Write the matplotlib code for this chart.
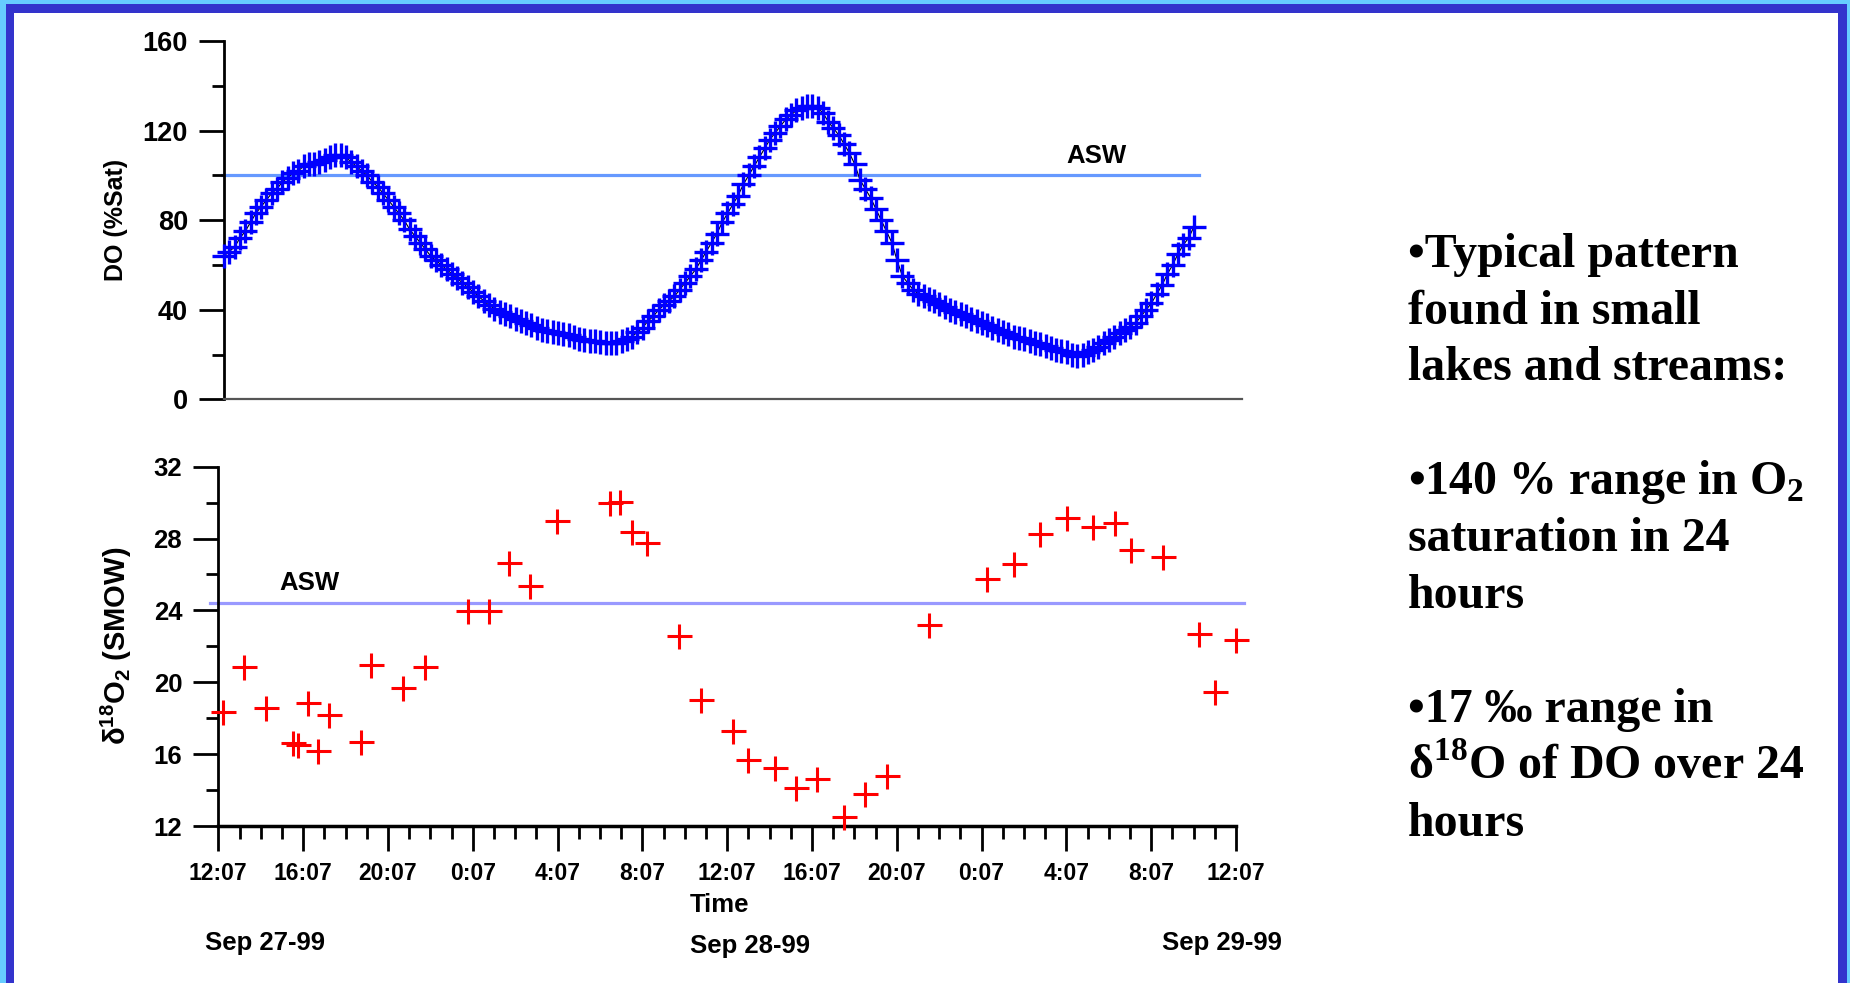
import numpy as np
import matplotlib.pyplot as plt
from matplotlib.patches import Rectangle

plt.rcParams['font.family'] = ['Liberation Sans', 'DejaVu Sans']
plt.rcParams['font.weight'] = 'bold'
plt.rcParams['mathtext.fontset'] = 'custom'
plt.rcParams['mathtext.rm'] = 'Liberation Serif:bold'
plt.rcParams['mathtext.bf'] = 'Liberation Serif:bold'
plt.rcParams['mathtext.sf'] = 'Liberation Sans:bold'

# dissolved O2 (% saturation), one reading every 15 min from 12:07 Sep 27
do_sat = [64, 66, 68, 72, 75, 79, 83, 86, 89, 92, 94, 97, 99, 101, 102, 104,
          105, 105, 106, 107, 108, 109, 109, 108, 106, 104, 102, 100, 97, 95, 92, 89,
          86, 83, 80, 76, 73, 70, 67, 64, 62, 60, 58, 56, 54, 52, 50, 48,
          46, 44, 42, 40.5, 39, 38, 37, 36, 35, 34, 33, 32, 31, 30.5, 30, 29.5,
          29, 28.5, 28, 27, 26.5, 26, 26, 25.5, 25, 25, 25, 26, 27, 28, 30, 32,
          35, 37, 40, 42, 44, 46, 49, 52, 55, 58, 62, 66, 70, 74, 79, 83,
          87, 91, 96, 100, 104, 108, 112, 116, 119, 122, 125, 127, 129, 130, 131, 131,
          130, 128, 124, 121, 118, 114, 110, 105, 98, 94, 90, 85, 80, 75, 70, 62,
          55, 52, 49, 47, 46, 45, 44, 42.5, 41, 40, 39, 38, 37, 36, 35, 34,
          33, 32, 31, 30, 29, 28, 27.5, 27, 26, 25, 24.5, 24, 23, 22, 21.5, 21,
          20, 19.5, 20, 21, 22, 23.5, 25, 26.5, 28, 29.5, 31, 32.5, 34, 37, 40, 43,
          47, 51, 56, 60, 65, 69, 72, 77]
do_hours = np.arange(len(do_sat)) * 0.25

# d18O of dissolved O2 (per mil SMOW), hours since 12:07 Sep 27
d18o_hours = [0.21, 1.22, 2.23, 3.52, 3.76, 4.22, 4.71, 5.21, 6.71, 7.22, 8.72, 9.73,
              11.76, 12.75, 13.72, 14.71, 15.98, 18.49, 18.95, 19.50, 20.22, 21.74,
              22.75, 24.27, 24.99, 26.26, 27.27, 28.26, 29.51, 30.52, 31.53, 33.52,
              36.26, 37.53, 38.77, 40.04, 41.26, 42.28, 43.04, 44.54, 46.27, 47.03, 48.02]
d18o = [18.36, 20.87, 18.55, 16.64, 16.51, 18.86, 16.17, 18.18, 16.67, 20.96, 19.66, 20.87,
        23.97, 23.97, 26.66, 25.36, 28.96, 29.96, 30.05, 28.34, 27.77, 22.57,
        19.0, 17.29, 15.67, 15.21, 14.10, 14.60, 12.48, 13.78, 14.78, 23.17,
        25.74, 26.56, 28.25, 29.16, 28.66, 28.84, 27.34, 26.95, 22.67, 19.47, 22.37]

asw_do = 100
asw_d18o = 24.43

tick_hours = list(range(0, 49, 4))
tick_labels = ['12:07', '16:07', '20:07', '0:07', '4:07', '8:07', '12:07',
               '16:07', '20:07', '0:07', '4:07', '8:07', '12:07']
day_labels = ['Sep 27-99', 'Sep 28-99', 'Sep 29-99']

W, H = 1850, 983
fig = plt.figure(figsize=(W / 100, H / 100), dpi=100)

# slide frame
fig.patches.append(Rectangle((0, 0), 1, 1, transform=fig.transFigure, facecolor='#3333cc', edgecolor='none', zorder=-3))
fig.patches.append(Rectangle((14 / W, 0), (1838 - 14) / W, 1 - 13 / H, transform=fig.transFigure, facecolor='white', edgecolor='none', zorder=-2))
fig.patches.append(Rectangle((0, 0), 6 / W, 1, transform=fig.transFigure, facecolor='#66ccff', edgecolor='none', zorder=-1))
fig.patches.append(Rectangle((1846.7 / W, 0), 3.3 / W, 1, transform=fig.transFigure, facecolor='#66ccff', edgecolor='none', zorder=-1))
fig.patches.append(Rectangle((0, 1 - 4 / H), 1, 4 / H, transform=fig.transFigure, facecolor='#66ccff', edgecolor='none', zorder=-1))

ax1 = fig.add_axes([224 / W, 1 - 399.3 / H, 1017.6 / W, 358.3 / H])
ax2 = fig.add_axes([218.3 / W, 1 - 826 / H, 1017.6 / W, 359.3 / H])
for ax in (ax1, ax2):
    ax.patch.set_alpha(0)
    ax.spines['top'].set_visible(False)
    ax.spines['right'].set_visible(False)
    ax.spines['left'].set_linewidth(2)
    ax.set_xlim(0, 48)
    ax.tick_params(axis='both', which='major', length=18, width=2, direction='out')
    ax.tick_params(axis='both', which='minor', length=9, width=2, direction='out')
    ax.tick_params(axis='y', pad=8)

# top panel: DO saturation
ax1.plot([-0.1, 46.0], [asw_do, asw_do], color='#6699ff', lw=2.3, clip_on=False, zorder=1)
ax1.plot(do_hours, do_sat, color='black', lw=0.8, zorder=2, clip_on=False)
ax1.plot(do_hours, do_sat, linestyle='none', marker='+', ms=17, mew=2.4, color='#0000ff', zorder=3, clip_on=False)
ax1.text(41.16, 105.3, 'ASW', ha='center', va='baseline', fontsize=18.5, fontweight='bold')
ax1.set_ylim(0, 160)
ax1.set_yticks([0, 40, 80, 120, 160])
ax1.set_yticks([20, 60, 100, 140], minor=True)
ax1.set_xticks([])
ax1.spines['bottom'].set_color('#555555')
ax1.spines['bottom'].set_linewidth(1.6)
ax1.tick_params(axis='y', labelsize=19.5)

# bottom panel: d18O of DO
ax2.plot([-0.4, 48.4], [asw_d18o, asw_d18o], color='#9999ff', lw=2.3, clip_on=False, zorder=1)
ax2.plot(d18o_hours, d18o, linestyle='none', marker='+', ms=18, mew=2.2, color='#ff0000', zorder=3, clip_on=False)
ax2.text(4.28, 25.13, 'ASW', ha='center', va='baseline', fontsize=18.5, fontweight='bold')
ax2.set_ylim(12, 32)
ax2.set_yticks(range(12, 33, 4))
ax2.set_yticks(range(14, 32, 4), minor=True)
ax2.set_xticks(tick_hours)
ax2.set_xticklabels(tick_labels)
ax2.set_xticks(range(0, 49), minor=True)
ax2.spines['bottom'].set_linewidth(2.5)
ax2.tick_params(axis='y', labelsize=18.5)
ax2.tick_params(axis='x', labelsize=16.5, pad=8)

fig.text(116 / W, 1 - 220 / H, 'DO (%Sat)', rotation=90, ha='center', va='center', fontsize=18, fontweight='bold')
fig.text(116 / W, 1 - 646 / H, r'$\mathsf{\delta^{18}O_2}$ (SMOW)', rotation=90, ha='center', va='center', fontsize=21, fontweight='bold')

fig.text(720 / W, 1 - 912 / H, 'Time', ha='center', va='baseline', fontsize=18.5, fontweight='bold')
fig.text(265 / W, 1 - 950 / H, day_labels[0], ha='center', va='baseline', fontsize=18.5, fontweight='bold')
fig.text(750 / W, 1 - 953 / H, day_labels[1], ha='center', va='baseline', fontsize=18.5, fontweight='bold')
fig.text(1222 / W, 1 - 950 / H, day_labels[2], ha='center', va='baseline', fontsize=18.5, fontweight='bold')

# bullet text on the right
lines = [
    (0, '\u2022Typical pattern'),
    (1, 'found in small'),
    (2, 'lakes and streams:'),
    (4, '\u2022140 % range in O$_2$'),
    (5, 'saturation in 24'),
    (6, 'hours'),
    (8, '\u202217 \u2030 range in'),
    (9, r'$\mathrm{\delta}^{18}$O of DO over 24'),
    (10, 'hours'),
]
for k, s in lines:
    fig.text(1408 / W, 1 - (266.7 + 56.9 * k) / H, s, ha='left', va='baseline',
             fontsize=34.5, fontweight='bold', family=['Liberation Serif', 'DejaVu Serif'])

fig.savefig('out.png', dpi=100)
